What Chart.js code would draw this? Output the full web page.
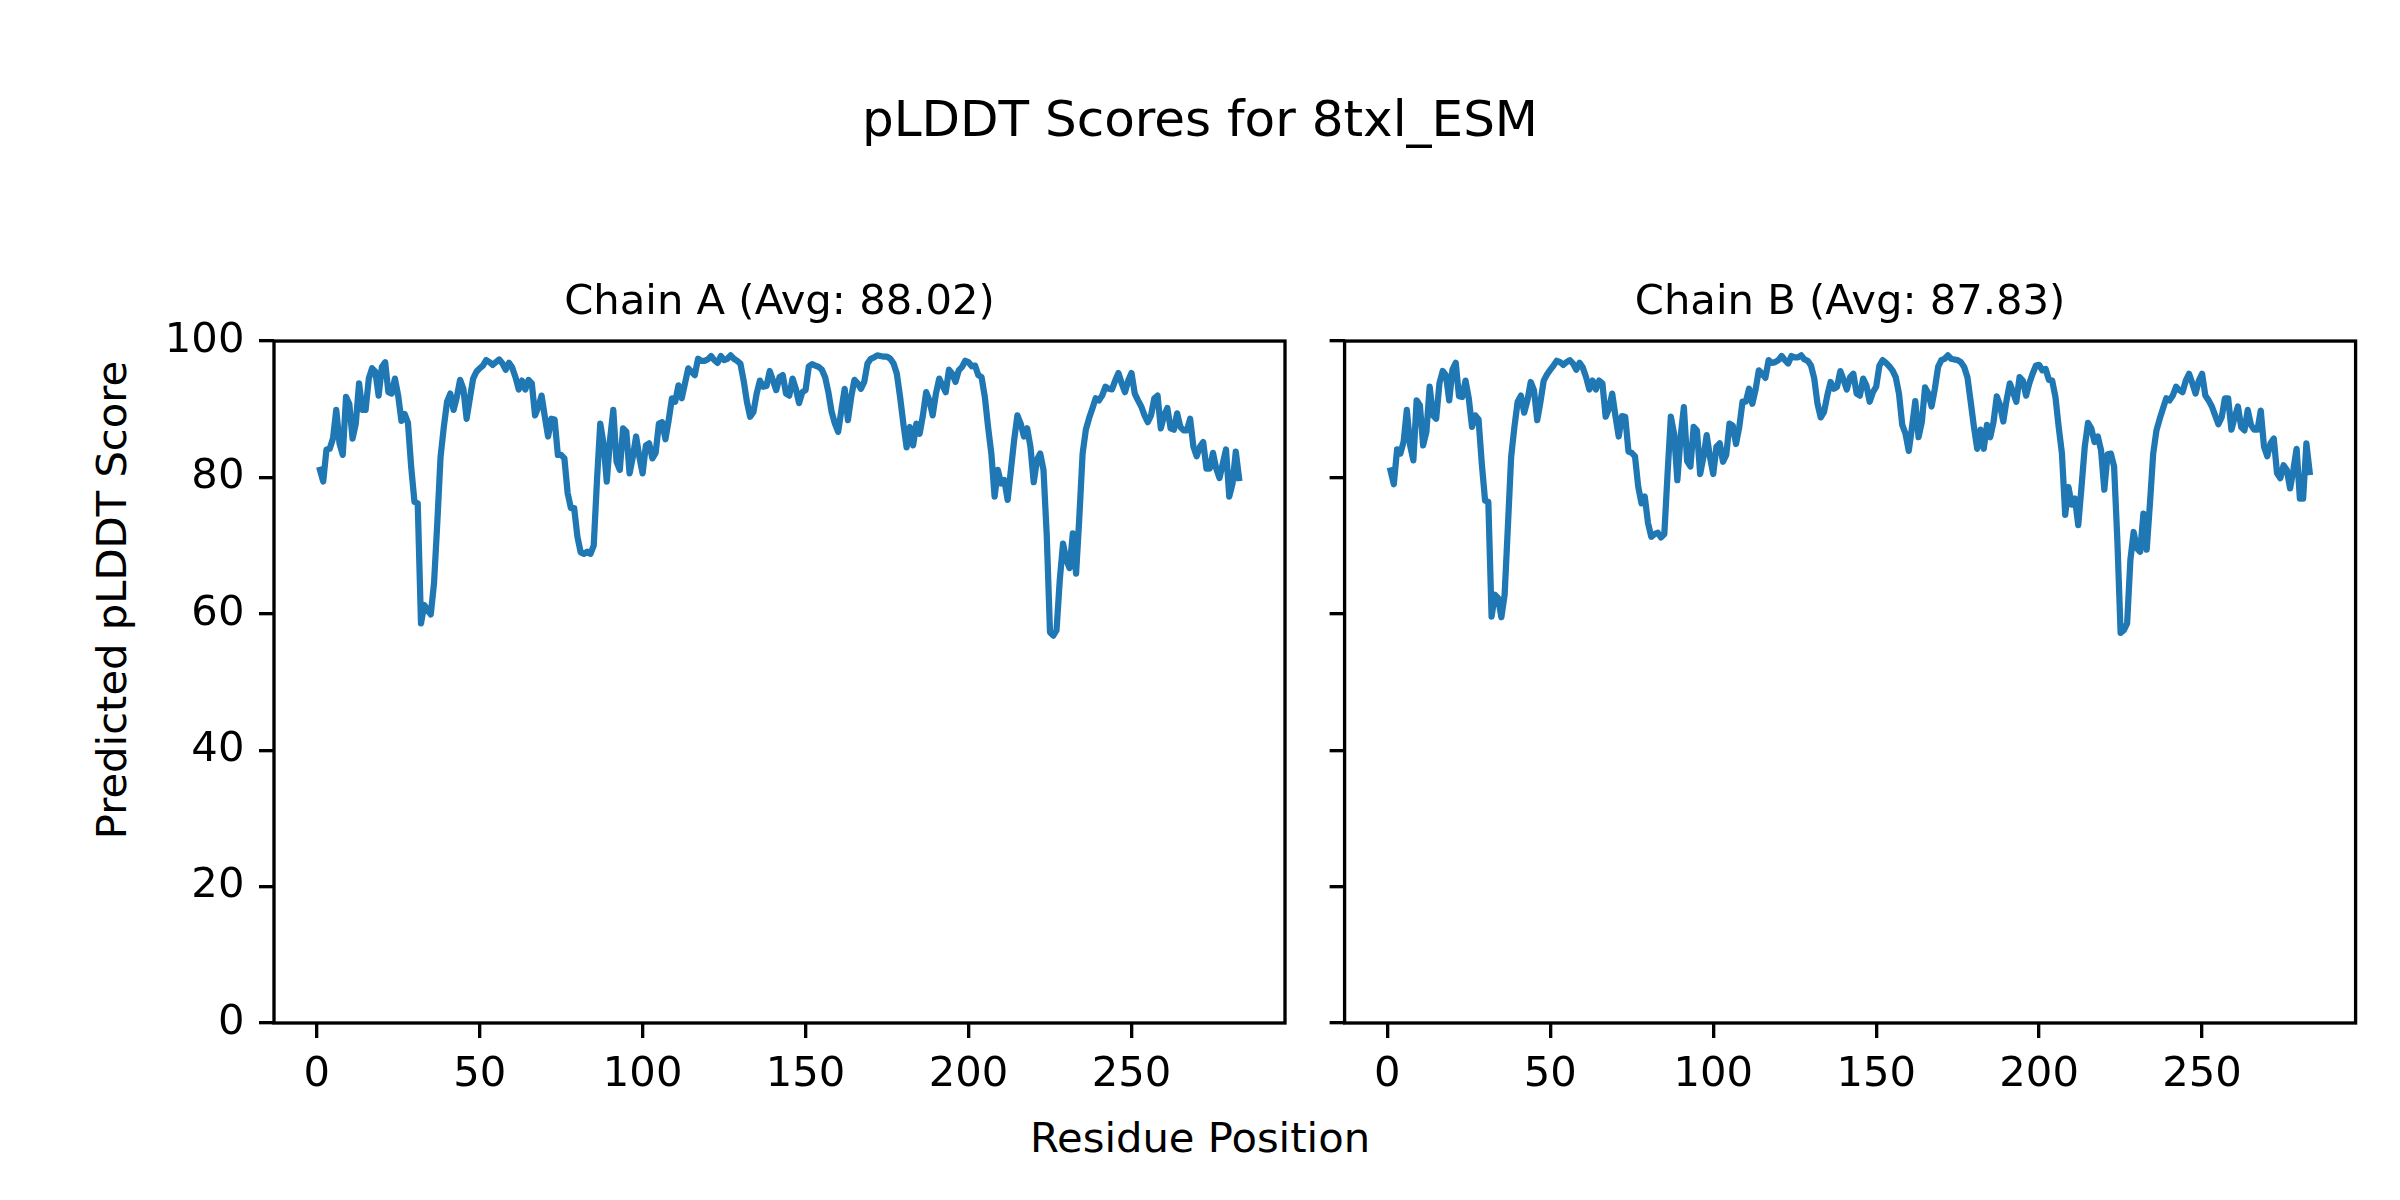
<!DOCTYPE html>
<html>
<head>
<meta charset="utf-8">
<script src="https://cdn.jsdelivr.net/npm/chart.js@4"></script>
<style>
  html, body { margin: 0; padding: 0; background: #fff; }
  #wrap { position: relative; width: 2400px; height: 1200px; background: #fff; overflow: hidden; font-family: 'DejaVu Sans', sans-serif; color: #000; }
  canvas { position: absolute; top: 0; }
  .txt { position: absolute; white-space: nowrap; line-height: 1; }
</style>
</head>
<body>
<div id="wrap">
  <div class="txt" id="suptitle" style="left:0;width:2400px;text-align:center;top:94px;font-size:50px;">pLDDT Scores for 8txl_ESM</div>
  <div class="txt" id="supx" style="left:0;width:2400px;text-align:center;top:1117px;font-size:41.7px;">Residue Position</div>
  <div class="txt" id="supy" style="left:112px;top:600px;font-size:41.7px;transform:translate(-50%,-50%) rotate(-90deg);">Predicted pLDDT Score</div>
  <canvas id="cA" width="1320" height="1200" style="left:0px;width:1320px;height:1200px;"></canvas>
  <canvas id="cB" width="1080" height="1200" style="left:1320px;width:1080px;height:1200px;"></canvas>
</div>
<script>
const chainATitle = 'Chain A (Avg: 88.02)';
const chainBTitle = 'Chain B (Avg: 87.83)';
const xTickValues = [0, 50, 100, 150, 200, 250];
const yTickValues = [0, 20, 40, 60, 80, 100];

const chainA = [
81.1,79.4,84.1,84.2,85.7,89.9,85.0,83.3,91.8,90.8,
85.7,87.9,93.8,89.9,89.9,94.5,96.0,95.5,92.0,96.2,
96.9,92.5,92.3,94.5,92.0,88.3,89.3,88.0,81.5,76.4,
76.2,58.6,61.3,60.6,59.9,64.5,73.3,83.0,87.4,91.1,
92.3,89.9,91.8,94.3,93.0,88.6,91.6,94.5,95.5,96.0,
96.4,97.2,96.9,96.5,96.9,97.3,96.7,95.8,96.8,96.1,
94.7,92.9,94.2,92.9,94.3,93.8,89.1,90.3,92.0,88.9,
86.0,88.6,88.5,83.3,83.3,82.8,77.7,75.5,75.5,71.3,
69.0,68.8,69.1,68.8,70.0,79.6,87.9,85.0,79.4,85.5,
89.9,82.3,81.1,87.2,86.7,80.6,83.0,86.0,83.0,80.6,
84.7,85.0,82.8,83.6,87.9,88.1,85.6,88.4,91.6,91.1,
93.5,91.6,93.8,96.0,95.5,95.0,97.4,97.1,97.1,97.3,
97.8,97.2,96.8,97.8,97.2,97.4,97.9,97.4,97.1,96.7,
94.2,91.1,88.9,89.6,92.3,94.2,93.3,93.4,95.6,94.2,
92.8,94.7,95.0,92.3,92.0,94.5,93.0,90.9,92.5,92.8,
96.3,96.6,96.4,96.2,95.8,94.7,92.5,89.6,87.9,86.7,
89.9,93.0,88.4,91.8,94.3,93.8,93.0,94.0,96.7,97.4,
97.6,97.9,97.8,97.7,97.7,97.4,96.7,95.2,91.8,87.9,
84.4,87.4,84.7,87.9,86.4,89.1,92.5,91.3,89.1,92.3,
94.5,93.5,92.5,95.8,95.2,94.0,95.7,96.2,97.1,96.9,
96.3,96.4,95.0,94.7,91.8,87.4,83.5,77.2,81.1,79.1,
79.6,76.7,81.1,85.5,89.1,87.9,86.0,87.2,84.5,79.3,
82.6,83.5,81.1,71.5,57.3,56.8,57.6,65.0,70.3,67.9,
66.7,71.8,65.9,74.2,83.5,87.0,88.7,90.1,91.6,91.3,
92.0,93.3,93.0,92.9,94.2,95.3,93.8,92.5,94.2,95.3,
92.3,91.3,90.4,89.1,88.1,89.1,91.6,92.0,87.2,89.1,
90.2,87.2,87.0,89.4,87.4,86.9,86.9,88.6,84.5,83.1,
84.5,85.2,81.3,81.3,83.6,81.3,79.9,82.0,84.1,77.2,
79.1,83.8,79.9
];

const chainB = [
81.0,79.0,84.1,83.5,85.2,89.9,84.7,82.5,91.3,90.6,
84.7,86.7,93.3,89.1,88.6,93.8,95.6,95.0,91.3,95.8,
96.8,91.9,91.8,94.2,91.6,87.4,89.1,88.5,82.0,76.6,
76.4,59.6,62.8,62.3,59.5,62.8,72.8,83.0,87.4,91.1,
92.0,89.5,91.3,94.0,92.8,88.4,91.1,94.2,95.1,95.8,
96.4,97.1,96.9,96.5,96.9,97.2,96.7,95.8,96.8,96.1,
94.7,92.9,94.2,92.9,94.2,93.8,88.9,90.1,92.3,89.0,
86.0,89.0,88.9,83.8,83.6,83.1,78.6,76.2,77.2,73.3,
71.3,71.7,71.9,71.2,71.7,80.6,88.9,86.4,79.6,86.0,
90.3,82.4,81.6,87.4,86.9,80.5,83.0,86.2,83.0,80.5,
84.5,85.0,82.3,83.3,87.9,87.6,84.9,87.4,91.1,91.1,
93.0,90.8,92.9,95.7,95.2,94.6,97.2,96.8,96.9,97.2,
97.8,97.2,96.7,97.8,97.6,97.6,97.9,97.3,97.1,96.4,
94.5,90.8,88.8,89.6,92.0,94.0,93.0,93.3,95.6,94.3,
92.9,94.7,95.2,92.3,92.0,94.5,93.5,91.1,92.5,93.3,
96.4,97.2,96.8,96.3,95.7,94.7,92.3,87.7,86.4,83.9,
87.4,91.2,85.9,88.1,93.2,92.3,90.4,93.0,96.2,97.2,
97.4,97.9,97.4,97.3,97.2,96.9,96.2,94.7,91.1,87.4,
84.2,87.0,84.2,87.7,85.9,88.1,91.9,90.6,88.2,91.3,
93.8,92.5,91.1,94.7,94.2,92.0,93.8,95.2,96.4,96.5,
95.7,95.9,94.3,94.2,91.8,87.4,83.5,74.5,78.6,76.0,
76.9,73.0,78.6,84.5,88.0,87.2,85.2,86.0,84.0,78.2,
83.4,83.5,81.6,70.8,57.2,57.6,58.6,67.9,72.0,69.6,
69.1,74.7,69.4,76.2,83.5,86.9,88.6,90.1,91.6,91.3,
92.0,93.3,92.8,92.5,94.2,95.2,93.8,92.3,94.2,95.2,
92.0,91.3,90.4,89.1,87.8,88.8,91.6,91.6,87.0,88.8,
90.4,87.4,86.9,89.9,87.7,87.0,87.0,89.8,84.5,83.1,
85.0,85.7,80.6,79.9,81.8,81.1,78.4,81.1,84.2,76.9,
76.9,85.0,80.8
];

const residuesA = chainA.map((_, i) => i + 1);
const residuesB = chainB.map((_, i) => i + 1);

const FONT = 'DejaVu Sans';
const LINE_COLOR = '#1f77b4';
const SPINE = 3.33;

const boxPlugin = {
  id: 'spineBox',
  afterDatasetsDraw(chart) {
    const a = chart.chartArea;
    const ctx = chart.ctx;
    ctx.save();
    ctx.strokeStyle = '#000';
    ctx.lineWidth = SPINE;
    ctx.lineJoin = 'miter';
    ctx.strokeRect(a.left, a.top, a.right - a.left, a.bottom - a.top);
    ctx.restore();
  }
};

function makeChart(canvasId, residues, values, title, opts) {
  const pts = residues.map((r, i) => ({ x: r, y: values[i] }));
  const xmin = residues[0], xmax = residues[residues.length - 1];
  const margin = (xmax - xmin) * 0.05;
  return new Chart(document.getElementById(canvasId), {
    type: 'line',
    data: {
      datasets: [{
        data: pts,
        borderColor: LINE_COLOR,
        borderWidth: 6.25,
        pointRadius: 0,
        pointHoverRadius: 0,
        tension: 0,
        fill: false,
        borderJoinStyle: 'round',
        borderCapStyle: 'square'
      }]
    },
    options: {
      responsive: false,
      maintainAspectRatio: false,
      devicePixelRatio: 1,
      animation: false,
      events: [],
      layout: { padding: { left: 0, right: opts.padRight, top: 0, bottom: 0 } },
      plugins: {
        legend: { display: false },
        tooltip: { enabled: false },
        title: {
          display: true,
          text: title,
          fullSize: false,
          color: '#000',
          font: { family: FONT, size: 41.7, weight: 'normal', lineHeight: 1.2 },
          padding: { top: 278, bottom: 13 }
        }
      },
      scales: {
        x: {
          type: 'linear',
          min: xmin - margin,
          max: xmax + margin,
          afterBuildTicks(scale) { scale.ticks = xTickValues.map(v => ({ value: v })); },
          afterFit(scale) { scale.height = 177; },
          grid: { drawOnChartArea: false, drawTicks: true, tickLength: 15, tickWidth: SPINE, tickColor: '#000', color: '#000', lineWidth: SPINE },
          border: { display: false },
          ticks: { color: '#000', font: { family: FONT, size: 41.7 }, padding: 12, maxRotation: 0, autoSkip: false }
        },
        y: {
          type: 'linear',
          min: 0,
          max: 100,
          afterBuildTicks(scale) { scale.ticks = yTickValues.map(v => ({ value: v })); },
          afterFit(scale) { scale.width = opts.yWidth; },
          grid: { drawOnChartArea: false, drawTicks: true, tickLength: 15, tickWidth: SPINE, tickColor: '#000', color: '#000', lineWidth: SPINE },
          border: { display: false },
          ticks: { display: opts.showYLabels, color: '#000', font: { family: FONT, size: 41.7 }, padding: 14.6, autoSkip: false }
        }
      }
    },
    plugins: [boxPlugin]
  });
}

makeChart('cA', residuesA, chainA, chainATitle, { padRight: 35, yWidth: 274, showYLabels: true });
makeChart('cB', residuesB, chainB, chainBTitle, { padRight: 44.4, yWidth: 24.6, showYLabels: false });
</script>
</body>
</html>
